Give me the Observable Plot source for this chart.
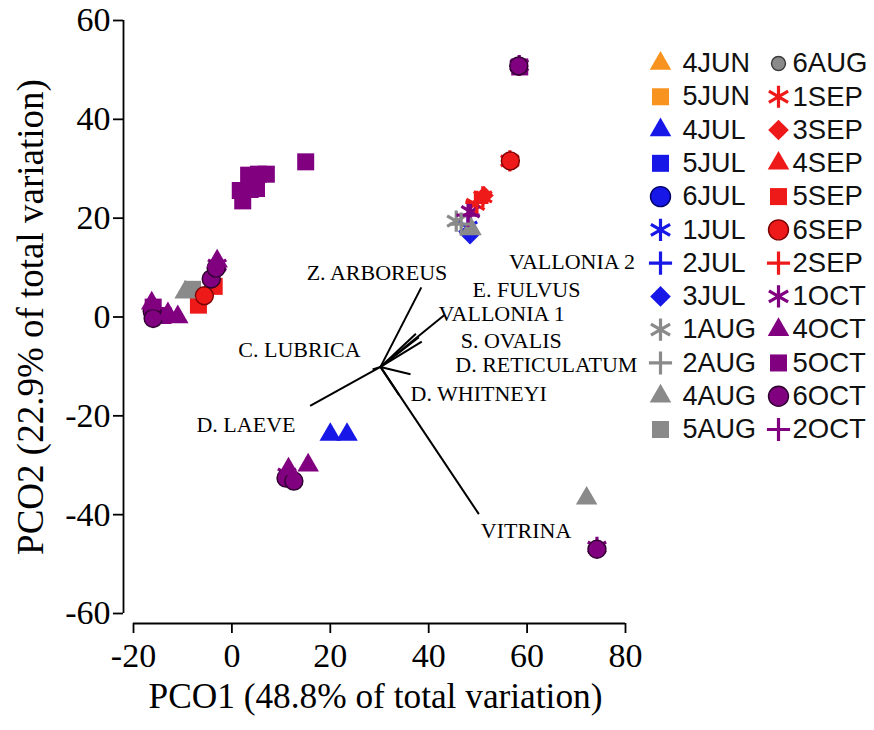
<!DOCTYPE html>
<html><head><meta charset="utf-8">
<script src="https://cdn.jsdelivr.net/npm/d3@7"></script>
<script src="https://cdn.jsdelivr.net/npm/@observablehq/plot@0.6"></script>
<style>
html,body{margin:0;padding:0;background:#fff;}
#wrap{position:relative;width:874px;height:730px;overflow:hidden;background:#fff;}
#main{position:absolute;left:0;top:0;}
#legend{position:absolute;left:640px;top:40px;}
</style></head><body>
<div id="wrap"><div id="main"></div><div id="legend"></div></div>
<script>
// ---------- data ----------
const xTicks = [-20, 0, 20, 40, 60, 80];
const yTicks = [-60, -40, -20, 0, 20, 40, 60];
const xLabel = "PCO1 (48.8% of total variation)";
const yLabel = "PCO2 (22.9% of total variation)";

const groups = ["4JUN","5JUN","4JUL","5JUL","6JUL","1JUL","2JUL","3JUL","1AUG","2AUG","4AUG","5AUG",
                "6AUG","1SEP","3SEP","4SEP","5SEP","6SEP","2SEP","1OCT","4OCT","5OCT","6OCT","2OCT"];

const pointGroup = [
  "4OCT","4OCT","5OCT","4OCT","5OCT","6OCT","6OCT",
  "4AUG","5AUG","5SEP","5SEP","6SEP","4OCT","1OCT","6OCT","6OCT",
  "5OCT","5OCT","5OCT","5OCT","5OCT","5OCT","5OCT","5OCT","5OCT",
  "5OCT","1OCT","6OCT",
  "1SEP","6SEP","3SEP","1SEP","1SEP","2SEP","1OCT","2OCT","1AUG","2AUG","3JUL","1JUL","4AUG",
  "4JUL","4JUL",
  "4OCT","4OCT","1OCT","6OCT","6OCT",
  "4AUG","1OCT","6OCT"
];
const pointX = [
  -11.0,-13.0,-16.0,-16.3,-14.0,-16.2,-16.0,
  -9.5,-8.0,-6.8,-3.6,-5.6,-3.0,-3.0,-4.2,-3.2,
  2.2,1.7,3.4,5.0,4.0,5.4,7.0,3.7,15.0,
  58.5,58.4,58.3,
  56.5,56.6,51.3,51.0,49.5,49.8,48.5,48.0,45.6,46.6,48.4,48.0,48.6,
  20.0,23.4,
  15.5,11.5,11.2,11.0,12.6,
  72.1,74.2,74.2
];
const pointY = [
  0.0,0.6,2.0,2.8,0.3,1.2,-0.3,
  5.0,5.6,2.4,6.2,4.3,11.3,10.5,7.7,9.9,
  23.5,25.6,28.7,26.0,27.5,28.9,28.9,25.8,31.4,
  50.6,50.9,50.8,
  31.6,31.6,24.6,24.3,22.8,23.2,21.3,20.6,19.4,18.8,16.6,18.2,17.8,
  -23.8,-23.8,
  -30.0,-30.8,-31.8,-32.6,-33.2,
  -36.7,-46.6,-47.0
];

const vectorNames = ["Z. ARBOREUS","VALLONIA 2","E. FULVUS","VALLONIA 1","S. OVALIS","C. LUBRICA",
                     "D. RETICULATUM","D. WHITNEYI","D. LAEVE","VITRINA"];
const vectorOrigin = [30.2, -10.1];
const vectorX = [38.5, 37.4, 38.0, 43.2, 38.6, 28.6, 36.3, 34.0, 15.9, 50.2];
const vectorY = [ 6.0, -3.4, -4.1,  0.4, -5.0, -10.6, -11.6, -15.8, -18.0, -39.9];
const labelX  = [15.2, 56.3, 48.9, 42.0, 46.5, 1.3, 45.4, 36.3, -7.2, 50.6];
const labelY  = [ 8.9, 11.1,  5.5,  0.6, -4.9, -6.7, -9.7, -15.6, -21.9, -43.3];

// ---------- styles ----------
const monthColor = {JUN:"#f7931e", JUL:"#1717e8", AUG:"#8a8a8a", SEP:"#ee1a1a", OCT:"#800080"};
const monthOutline = {JUN:"#8a4a00", JUL:"#00006a", AUG:"#3a3a3a", SEP:"#7a0000", OCT:"#2e002e"};
const shapes = ["asterisk","plus","diamond2","triangle","square","circle"];
const shapeOf = {"1":"asterisk","2":"plus","3":"diamond2","4":"triangle","5":"square","6":"circle"};
const shapeR = {asterisk:10, plus:7.5, diamond2:8.5, triangle:8, square:9.6, circle:9};
const legendR = {asterisk:10.5, plus:7.5, diamond2:9.3, triangle:8, square:9.6, circle:10};

function styleFor(g, rTable) {
  const shape = shapeOf[g[0]];
  const month = g.slice(1);
  const col = monthColor[month];
  const stroked = shape === "asterisk" || shape === "plus";
  return {
    shape,
    r: (g === "6AUG" && rTable === legendR) ? 7 : rTable[shape],
    fill: stroked ? "none" : col,
    stroke: stroked ? col : (shape === "circle" ? monthOutline[month] : "none"),
    sw: stroked ? 3.2 : 1.4
  };
}

const points = pointGroup.map((g, i) => ({g, x: pointX[i], y: pointY[i], ...styleFor(g, shapeR)}));
const vectors = vectorNames.map((n, i) => ({
  name: n, x1: vectorOrigin[0], y1: vectorOrigin[1], x2: vectorX[i], y2: vectorY[i], lx: labelX[i], ly: labelY[i]
}));
const legendItems = groups.map((g, i) => ({g, col: Math.floor(i / 12), row: i % 12, ...styleFor(g, legendR)}));

const serif = "'Liberation Serif', 'Times New Roman', serif";

const main = Plot.plot({
  width: 874, height: 730,
  marginLeft: 133, marginRight: 249, marginTop: 20, marginBottom: 117,
  style: {fontFamily: serif, background: "#fff", color: "#000"},
  x: {domain: [-20, 80]},
  y: {domain: [-60, 60]},
  color: {type: "identity"},
  r: {type: "identity"},
  symbol: {domain: shapes, range: shapes},
  marks: [
    Plot.ruleX([-20], {y1: -60, y2: 60, dx: -10, strokeWidth: 1.8, stroke: "#000"}),
    Plot.ruleY([-60], {x1: -20, x2: 80, dy: 10, strokeWidth: 1.8, stroke: "#000"}),
    Plot.axisY(yTicks, {tickSize: 10, tickPadding: 3, dx: -10, fontSize: 34, tickFormat: d => String(d), label: null, strokeWidth: 1.8, fill: "#000", stroke: "#000"}),
    Plot.axisX(xTicks, {tickSize: 10, tickPadding: 9, dy: 10, fontSize: 34, tickFormat: d => String(d), label: null, strokeWidth: 1.8, fill: "#000", stroke: "#000"}),
    Plot.text([xLabel], {text: d => d, frameAnchor: "bottom", lineAnchor: "middle", dy: 83, dx: -4, fontSize: 35.3, fill: "#000"}),
    Plot.text([yLabel], {text: d => d, frameAnchor: "left", textAnchor: "middle", lineAnchor: "middle", rotate: -90, dx: -102, fontSize: 37, fill: "#000"}),
    Plot.dot(points, {x: "x", y: "y", symbol: "shape", r: "r", fill: "fill", stroke: "stroke", strokeWidth: "sw"}),
    Plot.link(vectors, {x1: "x1", y1: "y1", x2: "x2", y2: "y2", stroke: "#000", strokeWidth: 2}),
    Plot.text(vectors, {x: "lx", y: "ly", text: "name", textAnchor: "start", fontSize: 22, fill: "#000"})
  ]
});
document.getElementById("main").append(main);

const legend = Plot.plot({
  width: 234, height: 410, margin: 0,
  style: {fontFamily: "'Liberation Sans', Arial, sans-serif", background: "transparent"},
  x: {type: "linear", domain: [0, 1], range: [20, 138], axis: null},
  y: {type: "linear", domain: [0, 11], range: [23, 389], axis: null},
  color: {type: "identity"},
  r: {type: "identity"},
  symbol: {domain: shapes, range: shapes},
  marks: [
    Plot.dot(legendItems, {x: "col", y: "row", symbol: "shape", r: "r", fill: "fill", stroke: "stroke", strokeWidth: "sw"}),
    Plot.text(legendItems.filter(d => d.col === 0), {x: "col", y: "row", text: "g", textAnchor: "start", dx: 22, fontSize: 27, fill: "#111"}),
    Plot.text(legendItems.filter(d => d.col === 1), {x: "col", y: "row", text: "g", textAnchor: "start", dx: 14, fontSize: 27.5, fill: "#111"})
  ]
});
document.getElementById("legend").append(legend);
</script>
</body></html>
